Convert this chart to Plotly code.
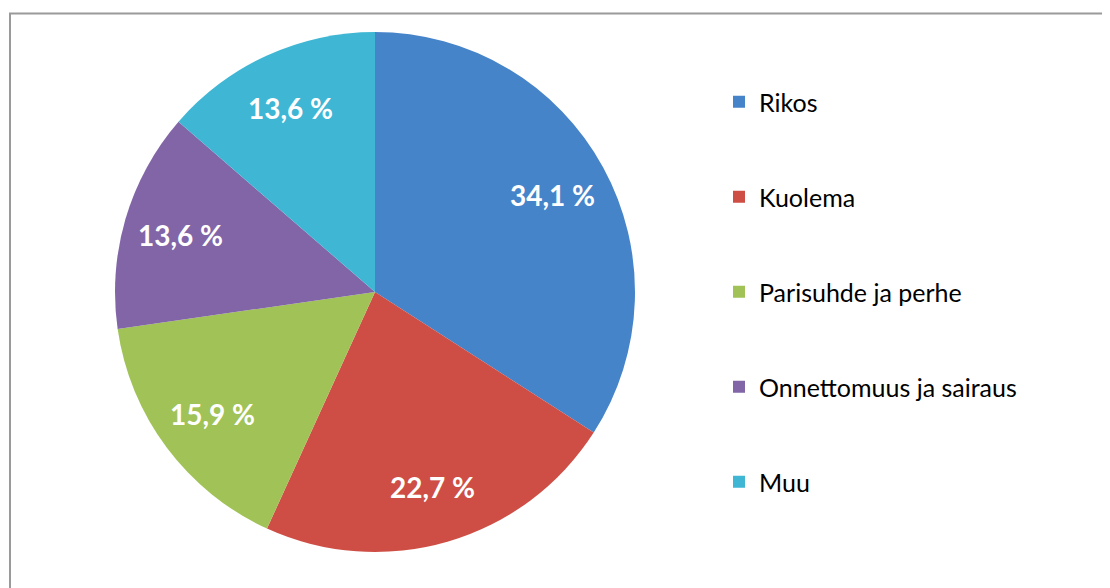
import math
import plotly.graph_objects as go

categories = ["Rikos", "Kuolema", "Parisuhde ja perhe", "Onnettomuus ja sairaus", "Muu"]
counts = [15, 10, 7, 6, 6]
colors = ["#4684CA", "#CE4E45", "#A0C256", "#8165A7", "#3EB6D4"]

total = sum(counts)
labels_txt = [f"{c / total * 100:.1f} %".replace(".", ",") for c in counts]

W, H = 1110, 588
OFF = 8  # page body margin offset
cx, cy, r = 375 - OFF, 292 - OFF, 260

fig = go.Figure()
fig.add_trace(go.Pie(
    labels=categories,
    values=counts,
    textinfo="none",
    marker=dict(colors=colors, line=dict(width=0)),
    sort=False,
    direction="clockwise",
    rotation=0,
    showlegend=False,
    hoverinfo="label+percent",
    domain=dict(x=[(cx - r) / W, (cx + r) / W], y=[(H - cy - r) / H, (H - cy + r) / H]),
))

# data labels placed along each slice's mid-angle
annotations = []
cum = 0
for c, t in zip(counts, labels_txt):
    mid = (cum + c / 2) / total * 2 * math.pi
    cum += c
    lx = cx + 0.78 * r * math.sin(mid)
    ly = cy - 0.78 * r * math.cos(mid)
    annotations.append(dict(
        x=lx / W, y=1 - ly / H, xref="paper", yref="paper",
        text=t, showarrow=False, xanchor="center", yanchor="middle",
        font=dict(family="Lato", size=28, color="white", weight="bold"),
    ))

for i, (cat, col) in enumerate(zip(categories, colors)):
    fig.add_trace(go.Scatter(
        x=[None], y=[None], mode="markers", name=cat,
        marker=dict(symbol="square", size=12, color=col),
        legendgroup=f"g{i}", showlegend=True,
    ))

fig.update_layout(
    width=W, height=H,
    margin=dict(l=0, r=0, t=0, b=0),
    paper_bgcolor="white", plot_bgcolor="white",
    xaxis=dict(visible=False), yaxis=dict(visible=False),
    annotations=annotations,
    legend=dict(
        x=711 / W, y=1 - 71 / H, xanchor="left", yanchor="top",
        font=dict(family="Lato", size=25, color="black"),
        tracegroupgap=59.5, itemsizing="constant",
        bgcolor="rgba(0,0,0,0)",
    ),
    shapes=[dict(
        type="rect", xref="paper", yref="paper",
        x0=(10 - OFF) / W, x1=1.05, y0=-0.05, y1=1 - (13.5 - OFF) / H,
        line=dict(color="#9A9A9A", width=2), fillcolor="rgba(0,0,0,0)", layer="below",
    )],
)

fig.write_html("out.html")
